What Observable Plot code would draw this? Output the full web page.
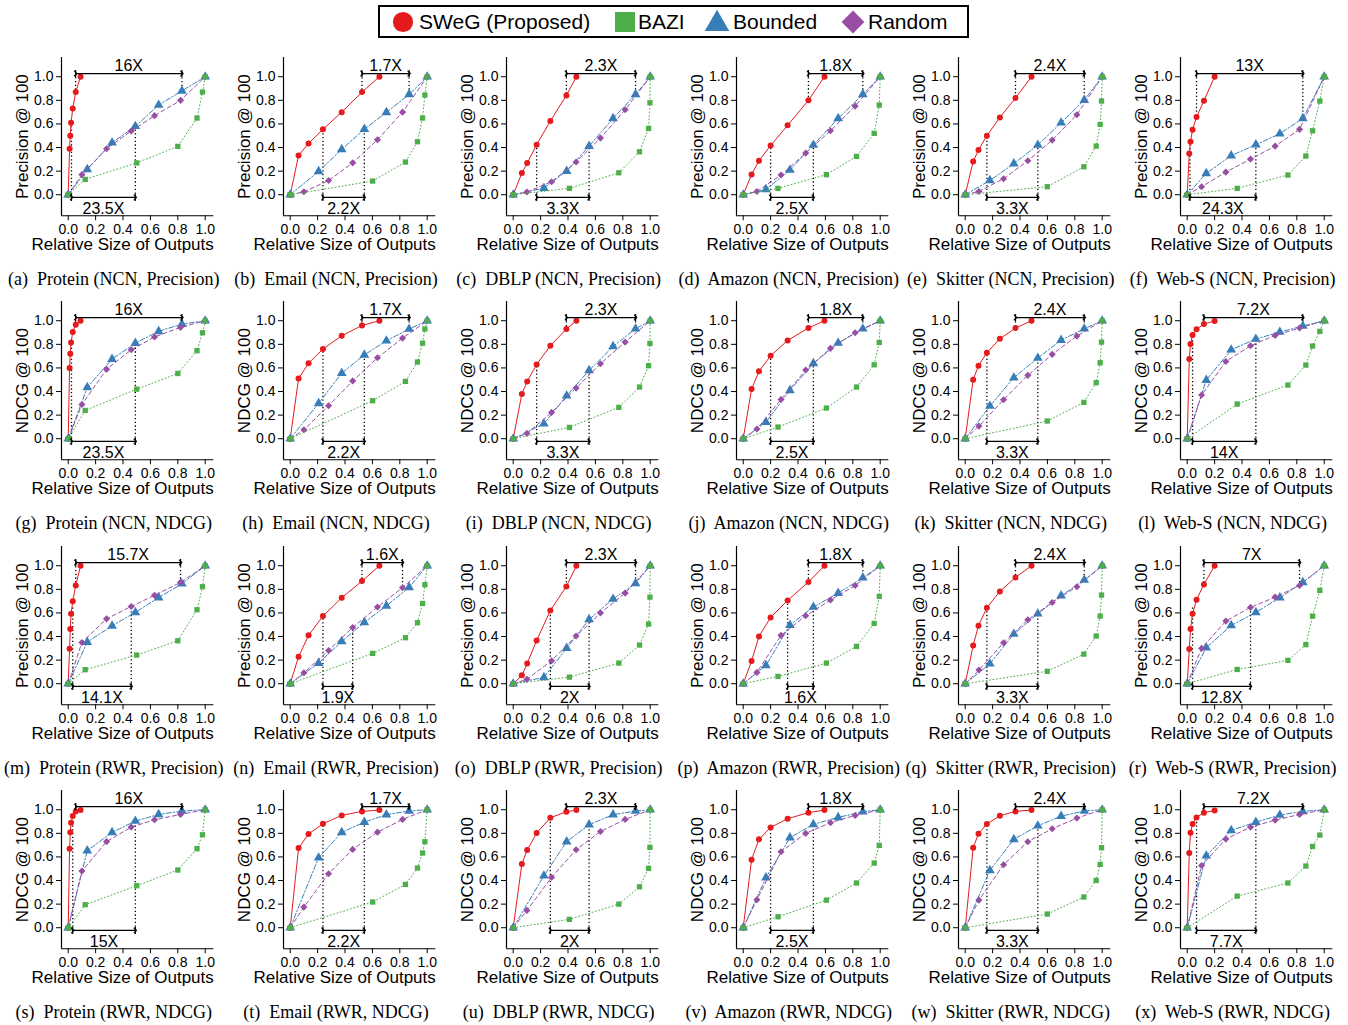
<!DOCTYPE html>
<html><head><meta charset="utf-8">
<script src="https://cdn.jsdelivr.net/npm/d3@7"></script>
<script src="https://cdn.jsdelivr.net/npm/@observablehq/plot@0.6"></script>
<style>
body{margin:0;background:#fff;}
#root{position:relative;width:1348px;height:1025px;overflow:hidden;background:#fff;}
.panel{position:absolute;}
.cap{position:absolute;font-family:"Liberation Serif","Times New Roman",serif;font-size:18px;white-space:pre;transform:translate(-50%,-50%);color:#000;}
</style></head><body><div id="root"></div><script>
// ---- categories ----
const datasets = ["Protein", "Email", "DBLP", "Amazon", "Skitter", "Web-S"];
const settings = ["NCN, Precision", "NCN, NDCG", "RWR, Precision", "RWR, NDCG"];
const yLabels = ["Precision @ 100", "NDCG @ 100", "Precision @ 100", "NDCG @ 100"];
const letters = "abcdefghijklmnopqrstuvwx".split("");
const methods = ["SWeG (Proposed)", "BAZI", "Bounded", "Random"];
const xTicks = [0, 0.2, 0.4, 0.6, 0.8, 1.0];
const yTicks = [0, 0.2, 0.4, 0.6, 0.8, 1.0];
const xLabel = "Relative Size of Outputs";

// ---- relative output sizes (x), per dataset (column) ----
const xSWeG = [
  [0, 0.01, 0.015, 0.021, 0.033, 0.055, 0.09],
  [0, 0.061, 0.134, 0.239, 0.376, 0.524, 0.651],
  [0, 0.063, 0.102, 0.171, 0.271, 0.388, 0.461],
  [0, 0.061, 0.115, 0.20, 0.324, 0.476, 0.593],
  [0, 0.058, 0.097, 0.158, 0.253, 0.367, 0.484],
  [0, 0.015, 0.024, 0.039, 0.068, 0.122, 0.20]
];
const xBAZI = [
  [0, 0.124, 0.50, 0.80, 0.94, 0.98, 1],
  [0, 0.602, 0.841, 0.929, 0.966, 0.983, 1],
  [0, 0.41, 0.771, 0.922, 0.988, 0.998, 1],
  [0, 0.254, 0.607, 0.827, 0.956, 0.993, 1],
  [0, 0.599, 0.866, 0.956, 0.985, 0.995, 1],
  [0, 0.365, 0.735, 0.866, 0.915, 0.968, 1]
];
const xBounded = [
  [0, 0.139, 0.32, 0.49, 0.66, 0.83, 1],
  [0, 0.207, 0.376, 0.541, 0.702, 0.868, 1],
  [0, 0.224, 0.39, 0.554, 0.729, 0.893, 1],
  [0, 0.166, 0.341, 0.512, 0.693, 0.873, 1],
  [0, 0.18, 0.355, 0.53, 0.70, 0.869, 1],
  [0, 0.139, 0.321, 0.501, 0.676, 0.844, 1]
];
const xRandom = [
  [0, 0.10, 0.28, 0.46, 0.63, 0.82, 1],
  [0, 0.10, 0.28, 0.456, 0.637, 0.82, 1],
  [0, 0.10, 0.28, 0.459, 0.637, 0.817, 1],
  [0, 0.10, 0.276, 0.456, 0.637, 0.817, 1],
  [0, 0.10, 0.28, 0.457, 0.635, 0.815, 1],
  [0, 0.105, 0.282, 0.462, 0.642, 0.82, 1]
];

// ---- accuracy values (y), per panel a..x ----
const ySWeG = [
  [0,0.39,0.50,0.61,0.73,0.87,1],[0,0.333,0.435,0.554,0.70,0.87,1],[0,0.184,0.268,0.424,0.624,0.842,1],
  [0,0.172,0.288,0.418,0.588,0.80,1],[0,0.282,0.379,0.50,0.655,0.819,1],[0,0.35,0.449,0.551,0.658,0.797,1],
  [0,0.60,0.72,0.816,0.904,0.966,1],[0,0.51,0.64,0.76,0.873,0.96,1],[0,0.379,0.486,0.63,0.788,0.929,1],
  [0,0.421,0.571,0.703,0.833,0.938,1],[0,0.50,0.619,0.729,0.847,0.938,1],[0,0.675,0.802,0.879,0.927,0.972,0.997],
  [0,0.297,0.463,0.593,0.698,0.833,1],[0,0.229,0.41,0.573,0.729,0.87,1],[0,0.071,0.172,0.367,0.621,0.825,1],
  [0,0.192,0.401,0.562,0.706,0.862,1],[0,0.325,0.492,0.644,0.782,0.901,1],[0,0.294,0.463,0.593,0.712,0.842,1],
  [0,0.67,0.81,0.89,0.946,0.986,0.997],[0,0.675,0.794,0.881,0.952,0.986,0.997],[0,0.54,0.658,0.802,0.932,0.983,0.997],
  [0,0.576,0.749,0.85,0.924,0.975,0.997],[0,0.678,0.797,0.879,0.949,0.986,0.997],[0,0.633,0.805,0.879,0.935,0.975,0.994]
];
const yBAZI = [
  [0,0.13,0.27,0.41,0.65,0.87,1],[0,0.116,0.277,0.449,0.65,0.845,1],[0,0.054,0.186,0.364,0.562,0.78,1],
  [0,0.054,0.17,0.325,0.52,0.76,1],[0,0.068,0.237,0.412,0.596,0.794,1],[0,0.054,0.167,0.328,0.542,0.794,1],
  [0,0.24,0.42,0.553,0.746,0.898,1],[0,0.322,0.486,0.65,0.81,0.93,1],[0,0.096,0.266,0.438,0.619,0.808,1],
  [0,0.099,0.26,0.438,0.627,0.816,1],[0,0.15,0.308,0.475,0.644,0.819,1],[0,0.294,0.455,0.624,0.785,0.91,1],
  [0,0.119,0.243,0.364,0.627,0.822,1],[0,0.257,0.39,0.517,0.68,0.839,1],[0,0.056,0.175,0.328,0.506,0.734,1],
  [0,0.062,0.175,0.316,0.511,0.74,1],[0,0.105,0.251,0.404,0.573,0.751,1],[0,0.121,0.198,0.331,0.573,0.791,1],
  [0,0.195,0.356,0.489,0.67,0.788,1],[0,0.218,0.367,0.506,0.633,0.729,1],[0,0.071,0.20,0.347,0.503,0.681,1],
  [0,0.093,0.234,0.379,0.548,0.698,1],[0,0.116,0.26,0.401,0.537,0.678,1],[0,0.268,0.379,0.523,0.689,0.785,1]
];
const yBounded = [
  [0,0.215,0.44,0.58,0.76,0.88,1],[0,0.198,0.384,0.556,0.698,0.85,1],[0,0.056,0.20,0.412,0.647,0.85,1],
  [0,0.045,0.209,0.421,0.647,0.85,1],[0,0.121,0.263,0.421,0.61,0.802,1],[0,0.181,0.331,0.424,0.517,0.647,1],
  [0,0.435,0.675,0.81,0.91,0.972,1],[0,0.30,0.556,0.71,0.83,0.93,1],[0,0.127,0.364,0.579,0.782,0.932,1],
  [0,0.141,0.41,0.638,0.811,0.932,1],[0,0.277,0.517,0.684,0.836,0.932,1],[0,0.497,0.754,0.845,0.904,0.955,1],
  [0,0.353,0.49,0.605,0.73,0.847,1],[0,0.175,0.359,0.52,0.66,0.816,1],[0,0.054,0.302,0.545,0.718,0.85,1],
  [0,0.155,0.497,0.65,0.768,0.898,1],[0,0.169,0.421,0.593,0.746,0.879,1],[0,0.305,0.494,0.605,0.729,0.859,1],
  [0,0.653,0.808,0.904,0.96,0.989,1],[0,0.593,0.808,0.895,0.958,0.99,1],[0,0.44,0.729,0.873,0.958,0.989,1],
  [0,0.424,0.763,0.876,0.935,0.983,1],[0,0.486,0.749,0.864,0.946,0.989,1],[0,0.61,0.825,0.895,0.955,0.986,1]
];
const yRandom = [
  [0,0.17,0.39,0.54,0.67,0.80,1],[0,0.025,0.12,0.27,0.466,0.70,1],[0,0.023,0.11,0.277,0.48,0.72,1],
  [0,0.028,0.167,0.353,0.542,0.751,1],[0,0.028,0.136,0.288,0.463,0.678,1],[0,0.068,0.192,0.302,0.412,0.554,1],
  [0,0.29,0.588,0.754,0.862,0.944,1],[0,0.076,0.28,0.49,0.686,0.853,1],[0,0.045,0.223,0.429,0.636,0.819,1],
  [0,0.082,0.333,0.582,0.766,0.898,1],[0,0.107,0.33,0.537,0.715,0.87,1],[0,0.37,0.655,0.788,0.876,0.938,1],
  [0,0.35,0.55,0.655,0.749,0.859,1],[0,0.093,0.282,0.477,0.65,0.814,1],[0,0.037,0.195,0.404,0.599,0.768,1],
  [0,0.096,0.41,0.576,0.709,0.833,1],[0,0.116,0.347,0.542,0.689,0.822,1],[0,0.30,0.531,0.647,0.734,0.833,1],
  [0,0.48,0.73,0.853,0.915,0.96,1],[0,0.175,0.458,0.664,0.81,0.918,1],[0,0.147,0.427,0.661,0.816,0.918,1],
  [0,0.237,0.644,0.80,0.89,0.952,1],[0,0.234,0.534,0.729,0.839,0.929,1],[0,0.528,0.751,0.853,0.912,0.96,1]
];

// ---- speed-up annotations: [x from, x to, y at from, y at to, label] ----
const topNotes = [
  [0.054,0.83,0.87,0.88,"16X"],[0.524,0.868,0.87,0.85,"1.7X"],[0.388,0.893,0.842,0.85,"2.3X"],
  [0.476,0.873,0.80,0.85,"1.8X"],[0.367,0.869,0.819,0.802,"2.4X"],[0.068,0.844,0.658,0.647,"13X"],
  [0.054,0.83,0.966,0.972,"16X"],[0.524,0.868,0.96,0.93,"1.7X"],[0.388,0.893,0.929,0.932,"2.3X"],
  [0.476,0.873,0.938,0.932,"1.8X"],[0.367,0.869,0.938,0.932,"2.4X"],[0.122,0.844,0.972,0.955,"7.2X"],
  [0.055,0.82,0.833,0.859,"15.7X"],[0.524,0.82,0.87,0.814,"1.6X"],[0.388,0.893,0.825,0.85,"2.3X"],
  [0.476,0.873,0.862,0.898,"1.8X"],[0.367,0.869,0.901,0.879,"2.4X"],[0.122,0.82,0.842,0.833,"7X"],
  [0.055,0.83,0.986,0.989,"16X"],[0.524,0.868,0.986,0.99,"1.7X"],[0.388,0.893,0.983,0.989,"2.3X"],
  [0.476,0.873,0.975,0.983,"1.8X"],[0.367,0.869,0.986,0.989,"2.4X"],[0.122,0.844,0.975,0.986,"7.2X"]
];
const bottomNotes = [
  [0.024,0.49,0.58,0.58,"23.5X"],[0.239,0.541,0.554,0.556,"2.2X"],[0.171,0.554,0.424,0.412,"3.3X"],
  [0.20,0.512,0.418,0.421,"2.5X"],[0.158,0.53,0.50,0.421,"3.3X"],[0.02,0.501,0.424,0.424,"24.3X"],
  [0.024,0.49,0.81,0.81,"23.5X"],[0.239,0.541,0.76,0.71,"2.2X"],[0.171,0.554,0.63,0.579,"3.3X"],
  [0.20,0.512,0.703,0.638,"2.5X"],[0.158,0.53,0.729,0.684,"3.3X"],[0.039,0.501,0.845,0.845,"14X"],
  [0.033,0.46,0.655,0.655,"14.1X"],[0.239,0.456,0.573,0.477,"1.9X"],[0.271,0.554,0.621,0.545,"2X"],
  [0.324,0.512,0.706,0.65,"1.6X"],[0.158,0.53,0.644,0.593,"3.3X"],[0.039,0.462,0.647,0.647,"12.8X"],
  [0.033,0.49,0.904,0.904,"15X"],[0.239,0.541,0.881,0.895,"2.2X"],[0.271,0.554,0.932,0.873,"2X"],
  [0.20,0.512,0.85,0.876,"2.5X"],[0.158,0.53,0.879,0.864,"3.3X"],[0.068,0.501,0.935,0.895,"7.7X"]
];

// ---- styles ----
const colors = {"SWeG (Proposed)": "#e41a1c", "BAZI": "#4daf4a", "Bounded": "#377eb8", "Random": "#984ea3"};
const symbols = {"SWeG (Proposed)": "circle", "BAZI": "square", "Bounded": "triangle", "Random": "diamond2"};
const dashes = {"SWeG (Proposed)": null, "BAZI": "1,2.5", "Bounded": "5,2,1.5,2", "Random": "4,3"};
const radii = {"SWeG (Proposed)": 3, "BAZI": 3, "Bounded": 3.6, "Random": 3.2};

// ---- layout ----
const X0 = [67.7, 290, 512.7, 742.7, 964.7, 1186.7];
const Y0 = [194, 438, 683, 927];
const KX = 137, KY = 118;
const XMIN = -0.049, XMAX = 1.063, YMIN = -0.178, YMAX = 1.163;
const ML = 61, MT = 7, MB = 45, W = 222;
const innerW = (XMAX - XMIN) * KX, innerH = (YMAX - YMIN) * KY;
const MR = W - ML - innerW, H = MT + innerH + MB;
const YA_TOP = 1.027, YA_BOT = -0.023;

const root = document.getElementById("root");

// legend
const leg = d3.select(root).append("svg").attr("width", 1348).attr("height", 45)
  .style("position", "absolute").style("left", "0px").style("top", "0px");
leg.append("rect").attr("x", 379).attr("y", 6).attr("width", 589).attr("height", 31)
  .attr("fill", "none").attr("stroke", "#000").attr("stroke-width", 2);
const legPos = [[403, 419], [625, 638], [717, 733], [853, 868]];
const legSym = {circle: d3.symbolCircle, square: d3.symbolSquare, triangle: d3.symbolTriangle, diamond2: d3.symbolDiamond2};
const legSize = {circle: 320, square: 400, triangle: 260, diamond2: 330};
methods.forEach((m, i) => {
  const s = symbols[m];
  leg.append("path").attr("d", d3.symbol(legSym[s], legSize[s])())
    .attr("transform", `translate(${legPos[i][0]},${s === "triangle" ? 24 : 22})`).attr("fill", colors[m]);
  leg.append("text").attr("x", legPos[i][1]).attr("y", 22).attr("dy", "0.35em")
    .attr("font-family", "Liberation Sans, Arial, sans-serif").attr("font-size", 21).text(m);
});

for (let p = 0; p < 24; p++) {
  const r = Math.floor(p / 6), c = p % 6;
  const series = [
    {m: "SWeG (Proposed)", xs: xSWeG[c], ys: ySWeG[p]},
    {m: "Bounded", xs: xBounded[c], ys: yBounded[p]},
    {m: "Random", xs: xRandom[c], ys: yRandom[p]},
    {m: "BAZI", xs: xBAZI[c], ys: yBAZI[p]}
  ];
  const marks = [
    Plot.ruleX([XMIN], {stroke: "#000", strokeWidth: 1.2}),
    Plot.ruleY([YMIN], {stroke: "#000", strokeWidth: 1.2}),
    Plot.axisX({ticks: xTicks, tickFormat: d3.format(".1f"), tickSize: 5, tickPadding: 3, fontSize: 14, label: null}),
    Plot.axisY({ticks: yTicks, tickFormat: d3.format(".1f"), tickSize: 5, tickPadding: 3, fontSize: 14, label: null}),
    Plot.text([xLabel], {text: d => d, frameAnchor: "bottom", dx: -15, dy: 29, lineAnchor: "middle", textAnchor: "middle", fontSize: 17}),
    Plot.text([yLabels[r]], {text: d => d, frameAnchor: "left", dx: -39, rotate: -90, textAnchor: "middle", lineAnchor: "middle", fontSize: 17})
  ];
  // annotations
  const t = topNotes[p], b = bottomNotes[p];
  const vlines = [
    {x: t[0], ya: YA_TOP, yb: t[2]}, {x: t[1], ya: YA_TOP, yb: t[3]},
    {x: b[0], ya: YA_BOT, yb: b[2]}, {x: b[1], ya: YA_BOT, yb: b[3]}
  ];
  marks.push(Plot.link(vlines, {x1: "x", x2: "x", y1: "ya", y2: "yb", stroke: "#000", strokeWidth: 1.3, strokeDasharray: "1.3,2.4"}));
  for (const s of series) {
    const d = s.xs.map((x, i) => ({x, y: s.ys[i]}));
    marks.push(Plot.line(d, {x: "x", y: "y", stroke: colors[s.m], strokeWidth: 1, strokeDasharray: dashes[s.m]}));
    marks.push(Plot.dot(d, {x: "x", y: "y", fill: colors[s.m], stroke: null, symbol: symbols[s.m], r: radii[s.m]}));
  }
  const arrows = [{x1: t[0], x2: t[1], y: YA_TOP}, {x1: b[0], x2: b[1], y: YA_BOT}];
  marks.push(Plot.link(arrows, {x1: "x1", x2: "x2", y1: "y", y2: "y", stroke: "#000", strokeWidth: 1.2, markerStart: "arrow", markerEnd: "arrow"}));
  const bars = arrows.flatMap(a => [{x: a.x1, y: a.y}, {x: a.x2, y: a.y}]);
  marks.push(Plot.link(bars, {x1: "x", x2: "x", y1: d => d.y - 0.03, y2: d => d.y + 0.03, stroke: "#000", strokeWidth: 1.2}));
  const labels = [{x: (t[0] + t[1]) / 2, y: 1.093, s: t[4]}, {x: (b[0] + b[1]) / 2, y: -0.116, s: b[4]}];
  marks.push(Plot.text(labels, {x: "x", y: "y", text: "s", fontSize: 16, lineAnchor: "middle"}));

  const svg = Plot.plot({
    width: W, height: H, marginLeft: ML, marginRight: MR, marginTop: MT, marginBottom: MB,
    x: {domain: [XMIN, XMAX]}, y: {domain: [YMIN, YMAX]},
    style: {fontFamily: "Liberation Sans, Arial, sans-serif", fontSize: "14px", overflow: "visible", background: "transparent", color: "#000"},
    marks
  });
  const div = document.createElement("div");
  div.className = "panel";
  div.style.left = (X0[c] - ML + XMIN * KX) + "px";
  div.style.top = (Y0[r] - MT - YMAX * KY) + "px";
  div.appendChild(svg);
  root.appendChild(div);

  const cap = document.createElement("div");
  cap.className = "cap";
  cap.style.left = (X0[c] + 46) + "px";
  cap.style.top = (Y0[r] + 85) + "px";
  cap.textContent = `(${letters[p]})  ${datasets[c]} (${settings[r]})`;
  root.appendChild(cap);
}
</script></body></html>
